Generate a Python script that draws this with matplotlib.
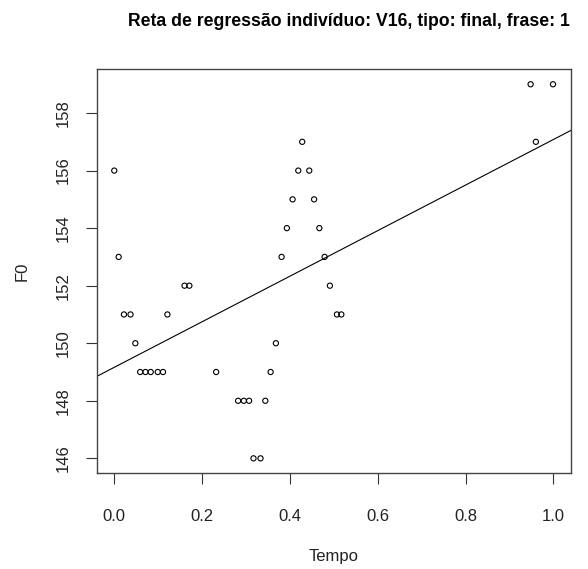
import numpy as np
import matplotlib
matplotlib.use("Agg")
import matplotlib.pyplot as plt

plt.rcParams['font.family'] = ['Liberation Sans', 'DejaVu Sans']

tempo = [0.000, 0.010, 0.022, 0.037, 0.048, 0.059, 0.071, 0.083, 0.099, 0.111,
         0.121, 0.160, 0.171, 0.232, 0.282, 0.295, 0.307, 0.317, 0.333, 0.344,
         0.356, 0.368, 0.381, 0.393, 0.406, 0.419, 0.428, 0.444, 0.455, 0.467,
         0.479, 0.491, 0.507, 0.517, 0.948, 0.960, 0.999]
f0 = [156, 153, 151, 151, 150, 149, 149, 149, 149, 149,
      151, 152, 152, 149, 148, 148, 148, 146, 146, 148,
      149, 150, 153, 154, 155, 156, 157, 156, 155, 154,
      153, 152, 151, 151, 159, 157, 159]
yticks = [146, 148, 150, 152, 154, 156, 158]
xticks = [0.0, 0.2, 0.4, 0.6, 0.8, 1.0]
title = "Reta de regressão indivíduo: V16, tipo: final, frase: 1"

x = np.array(tempo)
y = np.array(f0)
slope, intercept = np.polyfit(x, y, 1)

fig = plt.figure(figsize=(5.88, 5.69), dpi=100)
ax = fig.add_axes([96.7/588, 1-473.3/569, (571-96.7)/588, (473.3-69.3)/569])

ax.scatter(x, y, s=14, facecolors='none', edgecolors='black', linewidths=0.8, zorder=3)
xl = np.array([-0.04, 1.04])
ax.plot(xl, intercept + slope*xl, color='black', linewidth=0.8)

ax.set_xlim(-0.04, 1.04)
ax.set_ylim(145.48, 159.52)
ax.set_xticks(xticks)
ax.set_xticklabels([f"{t:.1f}" for t in xticks])
ax.set_yticks(yticks)
ax.set_yticklabels([str(t) for t in yticks], rotation=90, va='center')
ax.tick_params(axis='both', length=8, width=0.8, color='#333333', labelsize=12, labelcolor='#222222')
ax.tick_params(axis='x', pad=18)
ax.tick_params(axis='y', pad=11)
for s in ax.spines.values():
    s.set_linewidth(1.0)
    s.set_color('#444444')

fig.text(349/588, 1-21/569, title, ha='center', va='center',
         fontsize=12.7, fontweight='bold')
fig.text((96.7+571)/2/588, 1-556/569, "Tempo", ha='center', va='center', fontsize=12, color='#222222')
fig.text(22/588, 1-(69.3+473.3)/2/569, "F0", ha='center', va='center', rotation=90, fontsize=12, color='#222222')

fig.savefig("out.png", dpi=100)
